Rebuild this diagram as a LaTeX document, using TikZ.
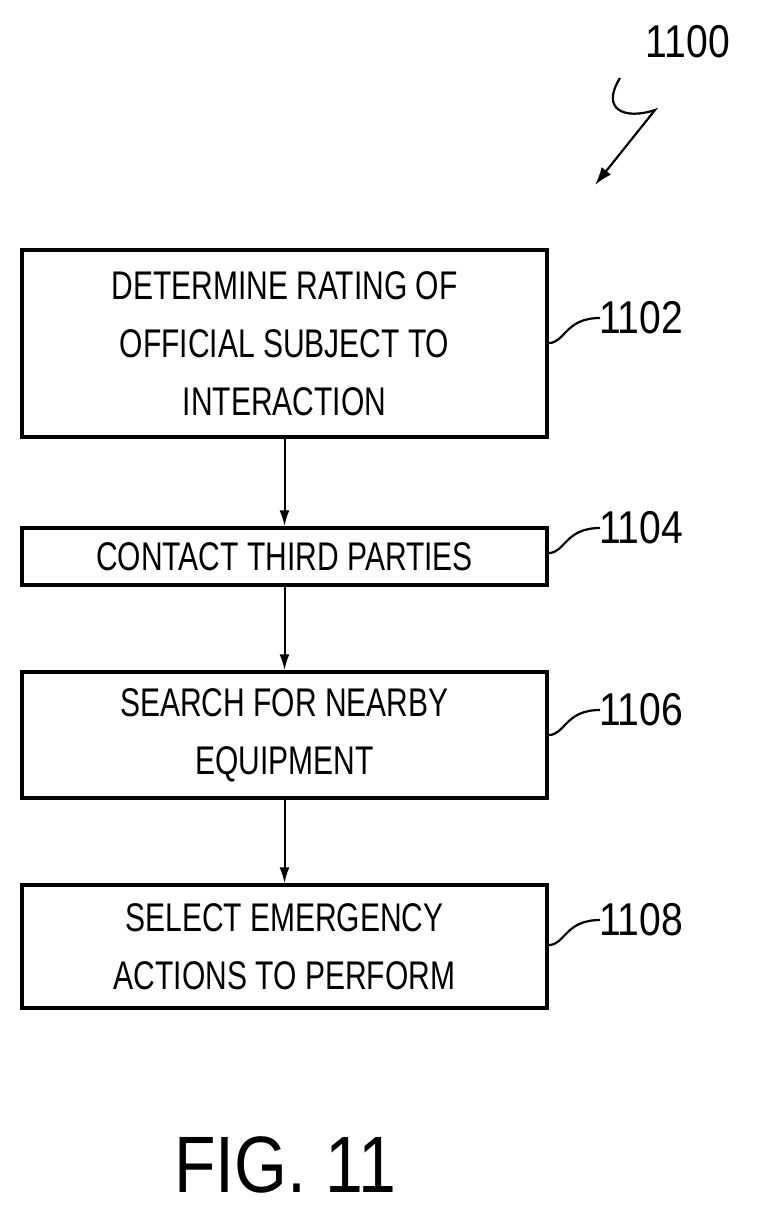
\documentclass[tikz,border=0pt]{standalone}
\usepackage{fontspec}
\setmainfont{Liberation Sans}
\usetikzlibrary{arrows.meta}
\begin{document}
\begin{tikzpicture}[x=1pt,y=-1pt,
  box/.style={draw,line width=3.5pt,minimum width=525pt},
  txt/.style={xscale=0.75,font=\fontsize{40}{58}\selectfont,align=center},
  lbl/.style={font=\fontsize{46}{46}\selectfont,xscale=0.85,anchor=west},
  arr/.style={line width=2pt,-{Latex[length=16pt,width=10pt]}},
  sq/.style={line width=2.2pt}]
\useasboundingbox (0,0) rectangle (765,1218);
\node[box,minimum height=187pt] (b1) at (284.5,343.5) {};
\node[txt] at (b1) {DETERMINE RATING OF\\OFFICIAL SUBJECT TO\\INTERACTION};
\node[box,minimum height=57pt] (b2) at (284.5,556.5) {};
\node[txt] at (b2) {CONTACT THIRD PARTIES};
\node[box,minimum height=126pt] (b3) at (284.5,735) {};
\node[txt] at (b3) {SEARCH FOR NEARBY\\EQUIPMENT};
\node[box,minimum height=123pt] (b4) at (284.5,946.5) {};
\node[txt] at (b4) {SELECT EMERGENCY\\ACTIONS TO PERFORM};
\draw[arr] (b1.south) -- (b2.north);
\draw[arr] (b2.south) -- (b3.north);
\draw[arr] (b3.south) -- (b4.north);
\foreach \b/\n/\y in {b1/1102/343,b2/1104/553,b3/1106/735,b4/1108/945}{
  \node[lbl] (l\n) at (596,\y-25) {\n};
  \draw[sq] (\b.east |- 0,\y) .. controls (565,\y) and (565,\y-25) .. (600,\y-25);
}
\node[font=\fontsize{46}{46}\selectfont,xscale=0.85] (t) at (688,42) {1100};
\coordinate (e) at (595,185);
\draw[line width=2.2pt,-{Latex[length=18pt,width=12pt]}] (620,78) .. controls (600,110) and (625,120) .. (655,110) -- (e);
\node[font=\fontsize{80}{80}\selectfont,xscale=0.85] (fig) at (285,1165) {FIG. 11};
\end{tikzpicture}
\end{document}
